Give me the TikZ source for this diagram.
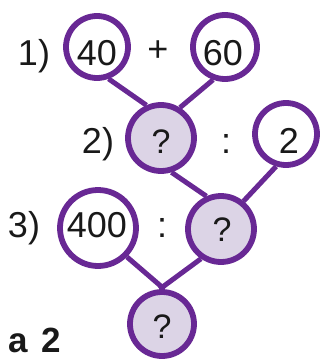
\documentclass[tikz,border=0pt]{standalone}
\usepackage{fontspec}
\setmainfont{Liberation Sans}
\usetikzlibrary{backgrounds}
\definecolor{ringc}{RGB}{104,40,148}
\definecolor{qfill}{RGB}{220,212,230}
\definecolor{inkc}{RGB}{25,25,25}
\begin{document}
\begin{tikzpicture}[x=1pt,y=-1pt,
  ring/.style={circle,draw=ringc,line width=5.8pt,fill=white,inner sep=0pt},
  qring/.style={ring,fill=qfill},
  link/.style={draw=ringc,line width=5pt},
  txt/.style={inner sep=0pt,anchor=base,text=inkc,font=\fontsize{36}{38}\selectfont},
  qtxt/.style={txt,font=\fontsize{34}{36}\selectfont}]
\useasboundingbox (0,0) rectangle (320,359);
% circles
\node[ring, minimum size=62pt] (n40) at (97,47) {};
\node[ring, minimum size=64pt] (n60) at (225,47) {};
\node[qring, minimum size=66pt] (q1) at (161,138) {};
\node[ring, minimum size=62pt] (n2) at (286,134) {};
\node[ring, minimum size=76pt] (n400) at (98,228) {};
\node[qring, minimum size=66pt] (q2) at (221,229) {};
\node[qring, minimum size=64pt] (q3) at (162,324) {};
% links behind the circles
\begin{scope}[on background layer]
\path[link] (n40.-70) -- (q1.114);
\path[link] (n60.-110) -- (q1.58);
\path[link] (q1.-73) -- (q2.114);
\path[link] (n2.-107) -- (q2.51);
\path[link] (n400.-45) -- (q3.86);
\path[link] (q2.-124) -- (q3.94);
\end{scope}
% texts
\node[txt] (t1) at (34,65) {1)};
\node[txt] (t40) at (97,65) {40};
\node[txt,anchor=center] (tplus) at (158,51) {+};
\node[txt] (t60) at (223,65) {60};
\node[txt] (t2p) at (98,153) {2)};
\node[qtxt] (tq1) at (161,153) {?};
\node[txt] (tcol1) at (226,153) {:};
\node[txt] (t2) at (289,153) {2};
\node[txt] (t3) at (24,237) {3)};
\node[txt] (t400) at (97,237) {400};
\node[txt] (tcol2) at (162,237) {:};
\node[qtxt] (tq2) at (222,241) {?};
\node[qtxt] (tq3) at (162,338) {?};
\node[txt,anchor=base east,font=\bfseries\fontsize{35}{37}\selectfont] (tcap) at (61,352) {а\hspace{4pt} 2};
\end{tikzpicture}
\end{document}
